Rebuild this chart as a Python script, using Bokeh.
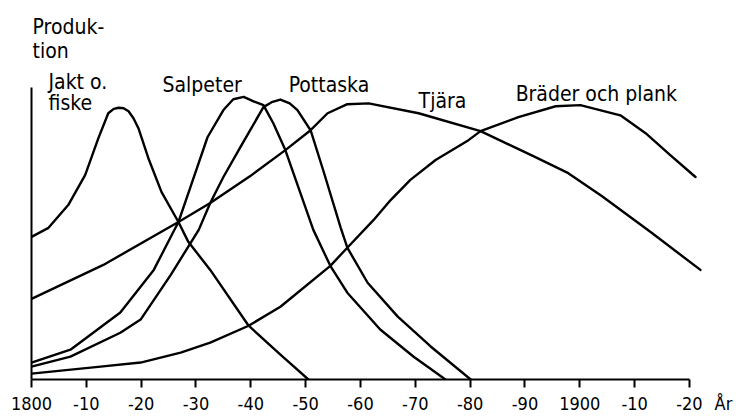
from bokeh.plotting import figure
from bokeh.models import Range1d, FixedTicker, LinearAxis
from bokeh.core.properties import value
from bokeh.embed import file_html
from bokeh.resources import INLINE

FONT = "DejaVu Sans Condensed"

# ---- data (year, relative production index 0-100) ----
jakt_x = [1800, 1803.1, 1806.7, 1809.8, 1812.2, 1814.0, 1815.0, 1815.9, 1816.8, 1817.7,
          1818.6, 1819.5, 1821.3, 1823.7, 1826.8, 1828.6, 1832.6, 1839.6, 1845.4, 1850.5]
jakt_y = [48.8, 51.9, 59.7, 70.0, 82.6, 91.1, 92.6, 93.0, 92.8, 91.8,
          89.4, 86.0, 75.8, 64.2, 53.9, 47.1, 37.5, 18.4, 8.5, 0.0]

salp_x = [1800, 1807.1, 1816.2, 1822.3, 1826.8, 1829.0, 1832.1, 1835.0, 1836.8, 1838.7,
          1840.5, 1842.3, 1844.1, 1846.3, 1848.2, 1851.4, 1854.5, 1857.6, 1863.6,
          1869.7, 1875.5]
salp_y = [5.8, 10.2, 22.9, 37.5, 53.9, 65.9, 82.9, 92.2, 95.9, 96.7,
          95.2, 93.9, 87.7, 78.5, 68.3, 51.2, 38.9, 29.7, 17.1,
          7.8, 0.0]

pott_x = [1800, 1807.1, 1816.2, 1819.9, 1825.4, 1830.5, 1832.6, 1835.0, 1838.1,
          1842.3, 1843.8, 1845.4, 1847.1, 1848.5, 1850.9, 1853.3, 1856.4, 1857.6,
          1861.3, 1866.8, 1872.8, 1880.1]
pott_y = [4.4, 7.8, 16.0, 20.5, 35.8, 51.2, 60.4, 69.3, 79.5,
          93.2, 94.9, 95.8, 94.5, 92.2, 85.3, 71.0, 51.9, 45.1,
          33.1, 21.5, 11.3, 0.0]

tjara_x = [1800, 1813.1, 1826.8, 1832.6, 1839.9, 1846.3, 1850.9, 1854.0, 1857.6,
           1861.5, 1870.6, 1881.9, 1891.9, 1897.9, 1904.0, 1913.1, 1922.0]
tjara_y = [27.6, 39.2, 53.9, 60.4, 69.6, 78.5, 85.3, 91.1, 94.2,
           94.5, 91.1, 85.0, 76.1, 70.6, 62.8, 50.2, 37.5]

brad_x = [1800, 1812.6, 1819.9, 1827.2, 1832.6, 1839.6, 1845.4, 1854.5, 1857.6,
          1862.4, 1865.5, 1869.1, 1873.7, 1879.7, 1881.9, 1888.8, 1895.6, 1900.1,
          1907.4, 1912.0, 1916.5, 1921.1]
brad_y = [2.0, 4.4, 5.8, 9.2, 12.6, 18.4, 24.9, 38.9, 45.1,
          54.6, 61.4, 68.3, 75.1, 81.9, 85.0, 89.8, 93.5, 93.9,
          90.4, 84.3, 76.8, 69.3]

tick_years = [1800, 1810, 1820, 1830, 1840, 1850, 1860, 1870, 1880, 1890, 1900, 1910, 1920]
tick_labels = ["1800", "-10", "-20", "-30", "-40", "-50", "-60", "-70", "-80", "-90",
               "1900", "-10", "-20"]
unit_pos = 1926.2
unit_label = "År"

label_text = ["Produk-", "tion", "Jakt o.", "fiske", "Salpeter", "Pottaska", "Tjära",
              "Bräder och plank"]
label_x = [1800.2, 1800.2, 1803.1, 1803.1, 1823.9, 1846.9, 1870.6, 1888.3]
label_y = [120.6, 112.4, 101.7, 94.5, 100.7, 100.9, 95.3, 97.7]

# ---- figure ----
p = figure(width=736, height=416, output_backend="svg", toolbar_location=None,
           x_range=Range1d(1800, 1928.58), y_range=Range1d(0, 129.69),
           min_border_left=31, min_border_right=0, min_border_top=0,
           min_border_bottom=36, x_axis_location=None)
p.xgrid.visible = False
p.ygrid.visible = False
p.outline_line_color = None
p.background_fill_color = "white"
p.border_fill_color = "white"

# axis line + ticks (labels drawn by the axis below it)
xa = LinearAxis(ticker=FixedTicker(ticks=tick_years), bounds=(1800, 1920))
xa.major_tick_out = 8
xa.major_tick_in = 0
xa.minor_tick_line_color = None
xa.axis_line_width = 2
xa.axis_line_color = "black"
xa.major_tick_line_width = 2
xa.major_tick_line_color = "black"
xa.major_label_text_color = None
xa.major_label_text_font_size = "1px"
xa.major_label_standoff = 0
p.add_layout(xa, "below")

# tick labels + unit
xl = LinearAxis(ticker=FixedTicker(ticks=tick_years + [unit_pos]), bounds=(1800, 1928.5))
xl.major_label_overrides = {**{t: l for t, l in zip(tick_years, tick_labels)},
                            unit_pos: unit_label}
xl.axis_line_color = None
xl.major_tick_line_color = None
xl.minor_tick_line_color = None
xl.major_tick_out = 0
xl.major_tick_in = 0
xl.major_label_text_font = FONT
xl.major_label_text_font_size = "18px"
xl.major_label_text_color = "black"
xl.major_label_standoff = 5
p.add_layout(xl, "below")

ya = p.yaxis[0]
ya.ticker = FixedTicker(ticks=[])
ya.bounds = (0, 100)
ya.major_label_text_color = None
ya.major_label_text_font_size = "1px"
ya.major_tick_line_color = None
ya.minor_tick_line_color = None
ya.axis_line_width = 2
ya.axis_line_color = "black"

for xs, ys in [(jakt_x, jakt_y), (salp_x, salp_y), (pott_x, pott_y),
               (tjara_x, tjara_y), (brad_x, brad_y)]:
    p.line(xs, ys, line_color="black", line_width=2.4, line_join="round", line_cap="round")

p.text(x=label_x, y=label_y, text=label_text, text_font=value(FONT),
       text_font_size="21px", text_color="black", text_align="left",
       text_baseline="alphabetic")

open("out.html", "w").write(file_html(p, INLINE))
